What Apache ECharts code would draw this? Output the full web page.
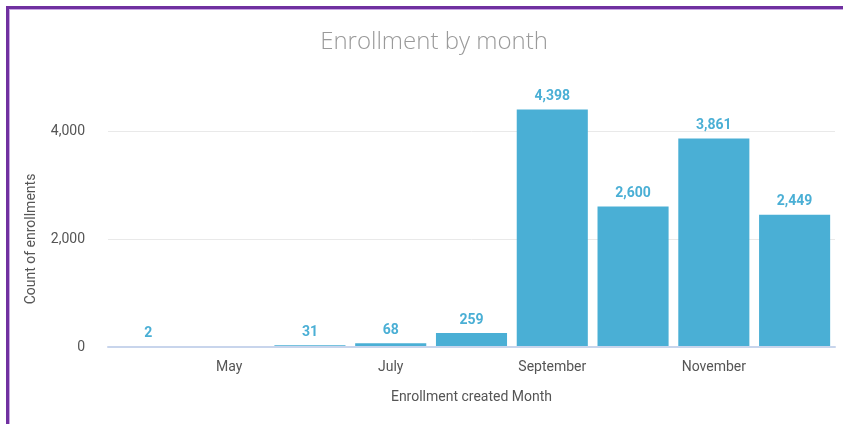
<!DOCTYPE html>
<html>
<head>
<meta charset="utf-8">
<script src="https://cdn.jsdelivr.net/npm/echarts@6/dist/echarts.min.js"></script>
<style>
html,body{margin:0;padding:0;background:#fff;}
#frame{position:absolute;left:6px;top:6px;right:0;bottom:0;border-left:3px solid #7030a0;border-top:3px solid #7030a0;box-shadow:inset 1px 1px 0 #c9a6e3;}
#chart{position:absolute;left:0;top:0;width:843px;height:424px;}
</style>
</head>
<body>
<div id="chart"></div>
<div id="frame"></div>
<script>
const categories = ['April','May','June','July','August','September','October','November','December'];
const enrollments = [2, null, 31, 68, 259, 4398, 2600, 3861, 2449];
const yTicks = [0, 2000, 4000];

const chart = echarts.init(document.getElementById('chart'), null, {renderer:'canvas'});
chart.setOption({
  animation: false,
  title: {
    text: 'Enrollment by month',
    left: 429, top: 25, textAlign: 'center',
    textStyle: {fontFamily: '"Open Sans", Lato, sans-serif', fontWeight: 300, fontSize: 24, color: '#9a9a9a'}
  },
  grid: {left: 108, right: 8, top: 131, bottom: 77},
  xAxis: {
    type: 'category',
    data: categories,
    z: 5,
    name: 'Enrollment created Month',
    nameLocation: 'middle',
    nameGap: 43,
    nameTextStyle: {fontFamily: 'Roboto', fontSize: 14, color: '#555'},
    axisLine: {lineStyle: {color: '#c8d5ec', width: 2}},
    axisTick: {show: false},
    axisLabel: {
      interval: function (i) { return i % 2 === 1; },
      fontFamily: 'Roboto', fontSize: 14, color: '#555', margin: 13
    }
  },
  yAxis: {
    type: 'value',
    min: yTicks[0], max: yTicks[yTicks.length - 1], interval: yTicks[1] - yTicks[0],
    name: 'Count of enrollments',
    nameLocation: 'middle',
    nameGap: 70,
    nameTextStyle: {fontFamily: 'Roboto', fontSize: 14, color: '#555'},
    axisLine: {show: false},
    axisTick: {show: false},
    splitLine: {lineStyle: {color: '#e9e9e9', width: 1}},
    axisLabel: {
      fontFamily: 'Roboto', fontSize: 14, color: '#555', margin: 23,
      formatter: function (v) { return v.toLocaleString('en-US'); }
    }
  },
  series: [{
    type: 'bar',
    data: enrollments,
    clip: false,
    barCategoryGap: '12%',
    itemStyle: {color: '#4aafd5'},
    label: {
      show: true, position: 'top', distance: 6,
      fontFamily: 'Roboto', fontWeight: 'bold', fontSize: 14, color: '#4aafd5',
      formatter: function (p) { return p.value == null ? '' : Number(p.value).toLocaleString('en-US'); }
    }
  }]
});
</script>
</body>
</html>
